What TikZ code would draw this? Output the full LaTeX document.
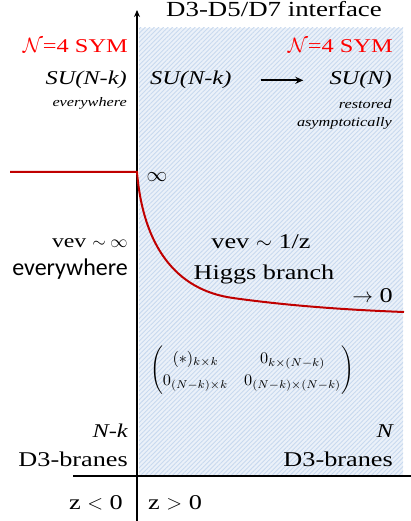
\documentclass[tikz,border=0pt]{standalone}
\usepackage{amsmath}
\usepackage{fontspec}
\setmainfont{Liberation Serif}[FakeStretch=1.25]
\newfontfamily\calibri{Carlito}
\usetikzlibrary{arrows.meta,patterns.meta}
\definecolor{Sym}{HTML}{FF0000}
\definecolor{Vev}{HTML}{C00000}
\definecolor{Region}{HTML}{EBF1F9}
\definecolor{Hatch}{HTML}{C8D9EF}

\begin{document}
\begin{tikzpicture}[x=1pt,y=-1pt,inner sep=0pt,
    big/.style={font=\fontsize{21}{24}\selectfont},
    group/.style={font=\fontsize{19.5}{22}\selectfont\itshape},
    note/.style={font=\fontsize{13}{15}\selectfont\itshape},
    sym/.style={text=Sym,font=\fontsize{19.5}{22}\selectfont}]
  \useasboundingbox (0,0) rectangle (411,521);
  % the half space z > 0
  \fill[Region] (139,28) rectangle (403,476);
  \fill[pattern={Lines[angle=45,distance=3.2pt,line width=0.9pt]},pattern color=Hatch] (139,28) rectangle (403,476);

  % axes
  \coordinate (axbot) at (137,521);
  \coordinate (axtop) at (137,10);
  \coordinate (hleft) at (73,476);
  \coordinate (hright) at (411,476);
  \draw[line width=1.6pt,-{Stealth[length=7pt,width=6pt]}] (axbot) -- (axtop);
  \draw[line width=1.6pt] (hleft) -- (hright);

  % vev profile
  \coordinate (farleft) at (10,172);
  \coordinate (wall) at (137,172);
  \coordinate (knee) at (233,298);
  \coordinate (farright) at (404,312);
  \draw[Vev,line width=2pt] (farleft) -- (wall) .. controls (143,245) and (175,290) .. (knee)
    .. controls (290,306) and (350,310) .. (farright);

  \node[anchor=base,font=\fontsize{21.5}{24}\selectfont] (title) at (274,17) {D3-D5/D7 interface};
  \node[sym,anchor=base east] (symleft) at (128,53) {$\mathcal{N}$=4 SYM};
  \node[sym,anchor=base east] (symright) at (393,53) {$\mathcal{N}$=4 SYM};
  \node[group,anchor=base east] (suleft) at (127,85) {SU(N-k)};
  \node[group,anchor=base west] (sumid) at (150,85) {SU(N-k)};
  \node[group,anchor=base east] (suright) at (392,85) {SU(N)};
  \draw[line width=1.8pt,-{Stealth[length=8pt,width=7pt]},shorten <=29pt,shorten >=26pt] (sumid.east) -- (suright.west);
  \node[note,anchor=base east] (everyleft) at (127,107) {everywhere};
  \node[note,anchor=base east] (restored) at (392,109) {restored};
  \node[note,anchor=base east] (asym) at (392,127) {asymptotically};

  \node[font=\fontsize{20}{22}\selectfont] (inf) at (157,177) {$\infty$};
  \node[anchor=base east,font=\fontsize{19}{22}\selectfont] (vevleft) at (128,247) {vev $\sim\infty$};
  \node[font=\calibri\fontsize{24}{26}\selectfont,anchor=base east] (everyvev) at (128,275) {everywhere};
  \node[big,anchor=base] (vevright) at (261,248) {vev $\sim$ 1/z};
  \node[big,anchor=base] (higgs) at (264,279) {Higgs branch};
  \node[big,anchor=base east] (tozero) at (393,302) {$\rightarrow$ 0};

  \node (vevmatrix) at (252,370)
    {\scalebox{1.62}{\renewcommand\arraystretch{1.15}$\begin{pmatrix} (*)_{k\times k} & 0_{k\times(N-k)}\\ 0_{(N-k)\times k} & 0_{(N-k)\times(N-k)} \end{pmatrix}$}};

  \node[group,anchor=base east] (nkleft) at (128,437) {N-k};
  \node[big,anchor=base east] (braneleft) at (128,466) {D3-branes};
  \node[group,anchor=base east] (nright) at (393,437) {N};
  \node[big,anchor=base east] (braneright) at (393,466) {D3-branes};
  \node[big,anchor=base east] (zneg) at (123,509) {z $<$ 0};
  \node[big,anchor=base west] (zpos) at (148,509) {z $>$ 0};
\end{tikzpicture}
\end{document}
